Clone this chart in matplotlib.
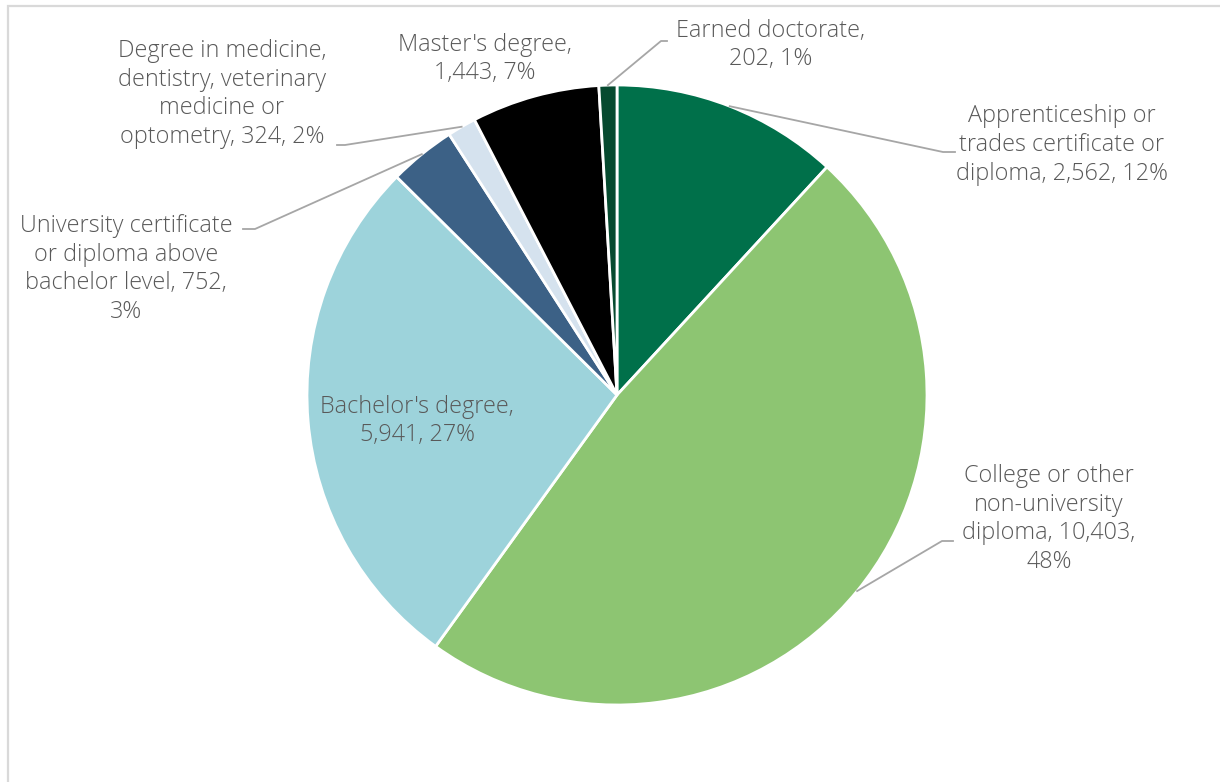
import matplotlib.pyplot as plt
import numpy as np
from matplotlib.patches import Rectangle

# highest certificate, diploma or degree
categories = ["Apprenticeship or\ntrades certificate or\ndiploma",
              "College or other\nnon-university\ndiploma",
              "Bachelor's degree",
              "University certificate\nor diploma above\nbachelor level",
              "Degree in medicine,\ndentistry, veterinary\nmedicine or\noptometry",
              "Master's degree",
              "Earned doctorate"]
counts = [2562, 10403, 5941, 752, 324, 1443, 202]
percents = [12, 48, 27, 3, 2, 7, 1]
colors = ["#00704A", "#8DC572", "#9DD3DB", "#3C6186", "#D5E2EE",
          "#000000", "#064A2F"]

W, H = 1220, 782
cx, cy, r = 617, H - 395, 310

fig = plt.figure(figsize=(12.2, 7.82), dpi=100)
ax = fig.add_axes([0, 0, 1, 1])
ax.set_xlim(0, W)
ax.set_ylim(0, H)
ax.set_aspect("equal")
ax.axis("off")

# light frame round the chart area
ax.add_patch(Rectangle((8, -20), W + 20, H - 6 + 20, fill=False,
                       edgecolor="#D9D9D9", linewidth=1.6))

wedges, _ = ax.pie(counts, colors=colors, startangle=90, counterclock=False,
                   center=(cx, cy), radius=r,
                   wedgeprops=dict(edgecolor="white", linewidth=2.0))
ax.set_xlim(0, W)
ax.set_ylim(0, H)

labels = ["{}, {:,}, {}%".format(n, c, p)
          for n, c, p in zip(categories, counts, percents)]
# some labels wrap the numbers onto their own lines
labels[0] = "Apprenticeship or\ntrades certificate or\ndiploma, {:,}, {}%".format(counts[0], percents[0])
labels[1] = "College or other\nnon-university\ndiploma, {:,},\n{}%".format(counts[1], percents[1])
labels[2] = "Bachelor's degree,\n{:,}, {}%".format(counts[2], percents[2])
labels[3] = ("University certificate\nor diploma above\nbachelor level, {:,},\n{}%"
             .format(counts[3], percents[3]))
labels[5] = "Master's degree,\n{:,}, {}%".format(counts[5], percents[5])
labels[6] = "Earned doctorate,\n{:,}, {}%".format(counts[6], percents[6])

# label centres (pixels from top-left) and leader elbow/end points
label_pos = [(1062, 145), (1049, 519), (417, 421), (126, 269),
             (222, 94), (485, 59), (771, 45)]
leaders = {0: [(943, 152), (955, 152)],
           1: [(942, 541), (953, 541)],
           3: [(255, 229), (243, 229)],
           4: [(345, 145), (337, 145)],
           6: [(661, 41), (667, 41)]}

text_kw = dict(fontsize=16.8, color="#595959", family="Open Sans", fontweight="light",
               ha="center", va="center", linespacing=1.27)

for i, (lab, (lx, ly)) in enumerate(zip(labels, label_pos)):
    ax.text(lx, H - ly, lab, **text_kw)
    if i in leaders:
        w = wedges[i]
        mid = np.deg2rad((w.theta1 + w.theta2) / 2)
        sx, sy = cx + r * np.cos(mid), cy + r * np.sin(mid)
        pts = [(sx, sy)] + [(px, H - py) for px, py in leaders[i]]
        ax.plot([p[0] for p in pts], [p[1] for p in pts],
                color="#A6A6A6", linewidth=1.3)

fig.savefig("out.png", dpi=100)
